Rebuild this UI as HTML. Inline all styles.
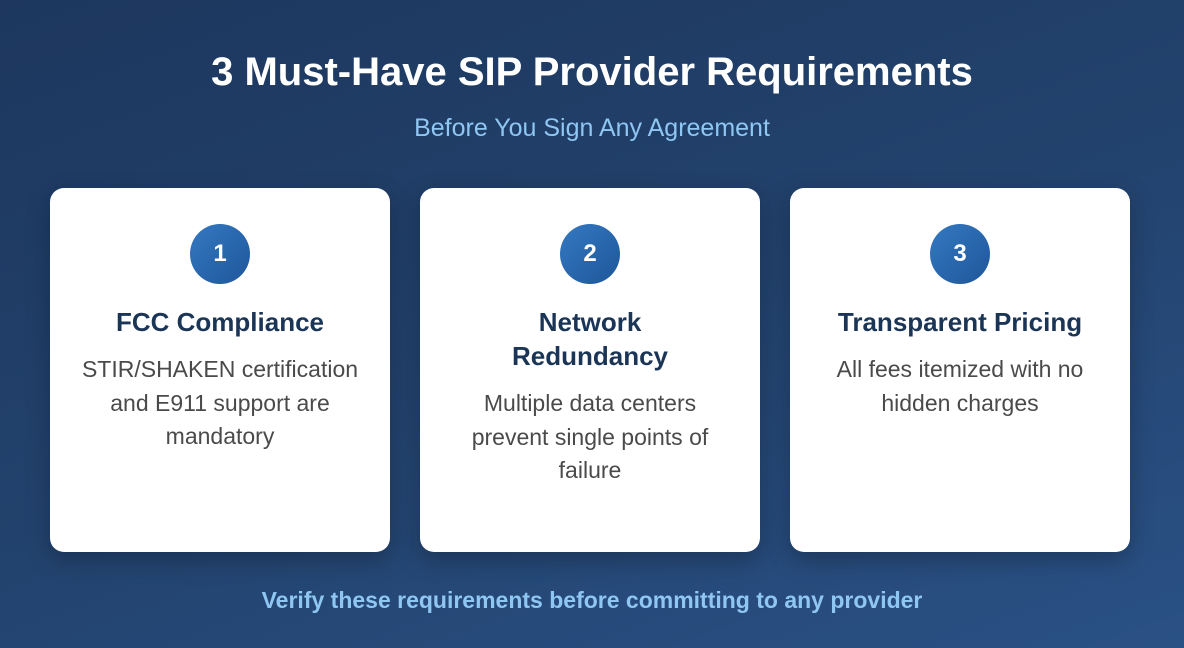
<!DOCTYPE html>
<html><head><style>
body{margin:0;width:1184px;height:648px;overflow:hidden;background:linear-gradient(160deg,#1d375e 0%,#22426d 50%,#2a5185 100%);font-family:"Liberation Sans","DejaVu Sans",sans-serif;position:relative}
.h{position:absolute;top:50px;left:0;width:1184px;text-align:center;color:#fff;font-size:40px;font-weight:bold}
.s{position:absolute;top:114px;left:0;width:1184px;text-align:center;color:#8fc6f2;font-size:25px}
.f{position:absolute;top:587px;left:0;width:1184px;text-align:center;color:#8fc6f2;font-size:23px;font-weight:bold}
.c{position:absolute;top:188px;width:340px;height:364px;background:#fff;border-radius:14px;box-shadow:0 8px 24px rgba(0,0,0,.25);text-align:center}
.n{width:60px;height:60px;border-radius:50%;background:linear-gradient(135deg,#3479c2,#1f5699);color:#fff;font-weight:bold;font-size:24px;line-height:60px;margin:36px auto 0}
.t{color:#1b3556;font-weight:bold;font-size:26px;line-height:34px;margin-top:21px;padding:0 40px}
.d{color:#4a4a4a;font-size:23px;line-height:33.5px;margin-top:14px;padding:0 28px}
</style></head><body>
<div class="h">3 Must-Have SIP Provider Requirements</div>
<div class="s">Before You Sign Any Agreement</div>
<div class="c" style="left:50px"><div class="n">1</div><div class="t">FCC Compliance</div><div class="d">STIR/SHAKEN certification and E911 support are mandatory</div></div>
<div class="c" style="left:420px"><div class="n">2</div><div class="t">Network Redundancy</div><div class="d" style="padding:0 38px">Multiple data centers prevent single points of failure</div></div>
<div class="c" style="left:790px"><div class="n">3</div><div class="t">Transparent Pricing</div><div class="d">All fees itemized with no hidden charges</div></div>
<div class="f">Verify these requirements before committing to any provider</div>
</body></html>
